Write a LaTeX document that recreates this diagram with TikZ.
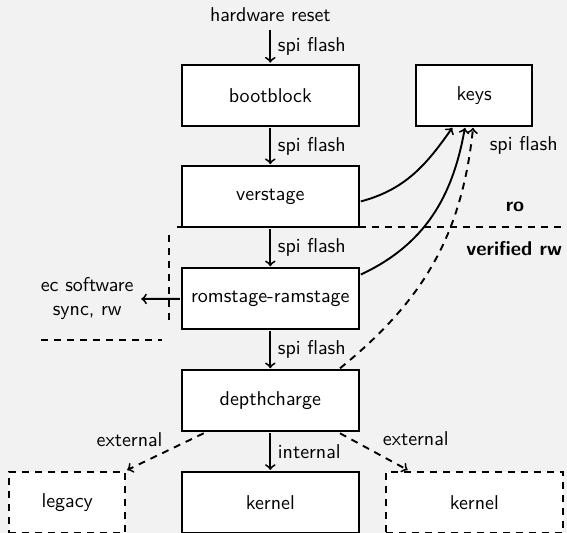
\documentclass[tikz,border=0pt]{standalone}
\definecolor{bg}{RGB}{242,242,242}
\tikzset{
  box/.style={draw, fill=white, minimum width=88.5pt, minimum height=30.5pt, inner sep=0pt, outer sep=1pt},
  smallbox/.style={box, minimum width=58pt},
  dbox/.style={box, dashed, dash pattern=on 3.5pt off 3pt},
  dsmallbox/.style={smallbox, dashed, dash pattern=on 3.5pt off 3pt},
  dline/.style={dashed, dash pattern=on 3.5pt off 3pt},
  boldlbl/.style={font=\sffamily\bfseries}
}
\begin{document}
\begin{tikzpicture}[x=0.5pt, y=0.5pt, font=\sffamily, line width=0.95pt]
\fill[bg] (0,0) rectangle (567,-533);
\useasboundingbox (0,0) rectangle (567,-533);
% region separators
\draw[dline] (176.7,-227.3) -- (567,-227.3);
\draw[dline] (169,-235) -- (169,-321.7);
\draw[dline] (41,-340) -- (161.7,-340);
% nodes
\node (hw) at (270.3,-15) {hardware reset};
\node[box] (boot) at (270.3,-95.2) {bootblock};
\node[smallbox] (keys) at (474.2,-95.3) {keys};
\node[box] (ver) at (270.3,-196.7) {verstage};
\node[box] (rom) at (270.3,-298.8) {romstage-ramstage};
\node[box] (depth) at (270.3,-400.8) {depthcharge};
\node[box] (kern) at (270.3,-502.5) {kernel};
\node[dsmallbox] (legacy) at (67.2,-502.5) {legacy};
\node[dbox] (kern2) at (474.3,-502.5) {kernel};
\node[align=center] (ec) at (87.2,-299) {ec software\\sync, rw};
\node (spik) at (523.7,-145) {spi flash};
\node[boldlbl] (ro) at (515,-206.7) {ro};
\node[boldlbl] (vrw) at (514.2,-248.3) {verified rw};
% connectors
\draw[->] (hw) -- node[right] {spi flash} (boot);
\draw[->] (boot) -- node[right] {spi flash} (ver);
\draw[->] (ver) -- node[right] {spi flash} (rom);
\draw[->] (rom) -- node[right] {spi flash} (depth);
\draw[->] (depth) -- node[right] {internal} (kern);
\draw[->] (rom) -- (ec);
\draw[->] (ver.-3.9) to[out=15, in=-125] (keys.-124.2);
\draw[->] (rom.15) to[out=25, in=-100] (keys.-106.7);
\draw[->, dline] (depth.25.5) to[out=39, in=-96] (keys.-92.8);
\draw[->, dline] (depth.-154.1) -- node[midway, xshift=-17.9pt, yshift=6.2pt] {external} (legacy.north east);
\draw[->, dline] (depth.-25.6) -- node[midway, xshift=21pt, yshift=6.4pt] {external} (kern2.154.8);
\end{tikzpicture}
\end{document}
